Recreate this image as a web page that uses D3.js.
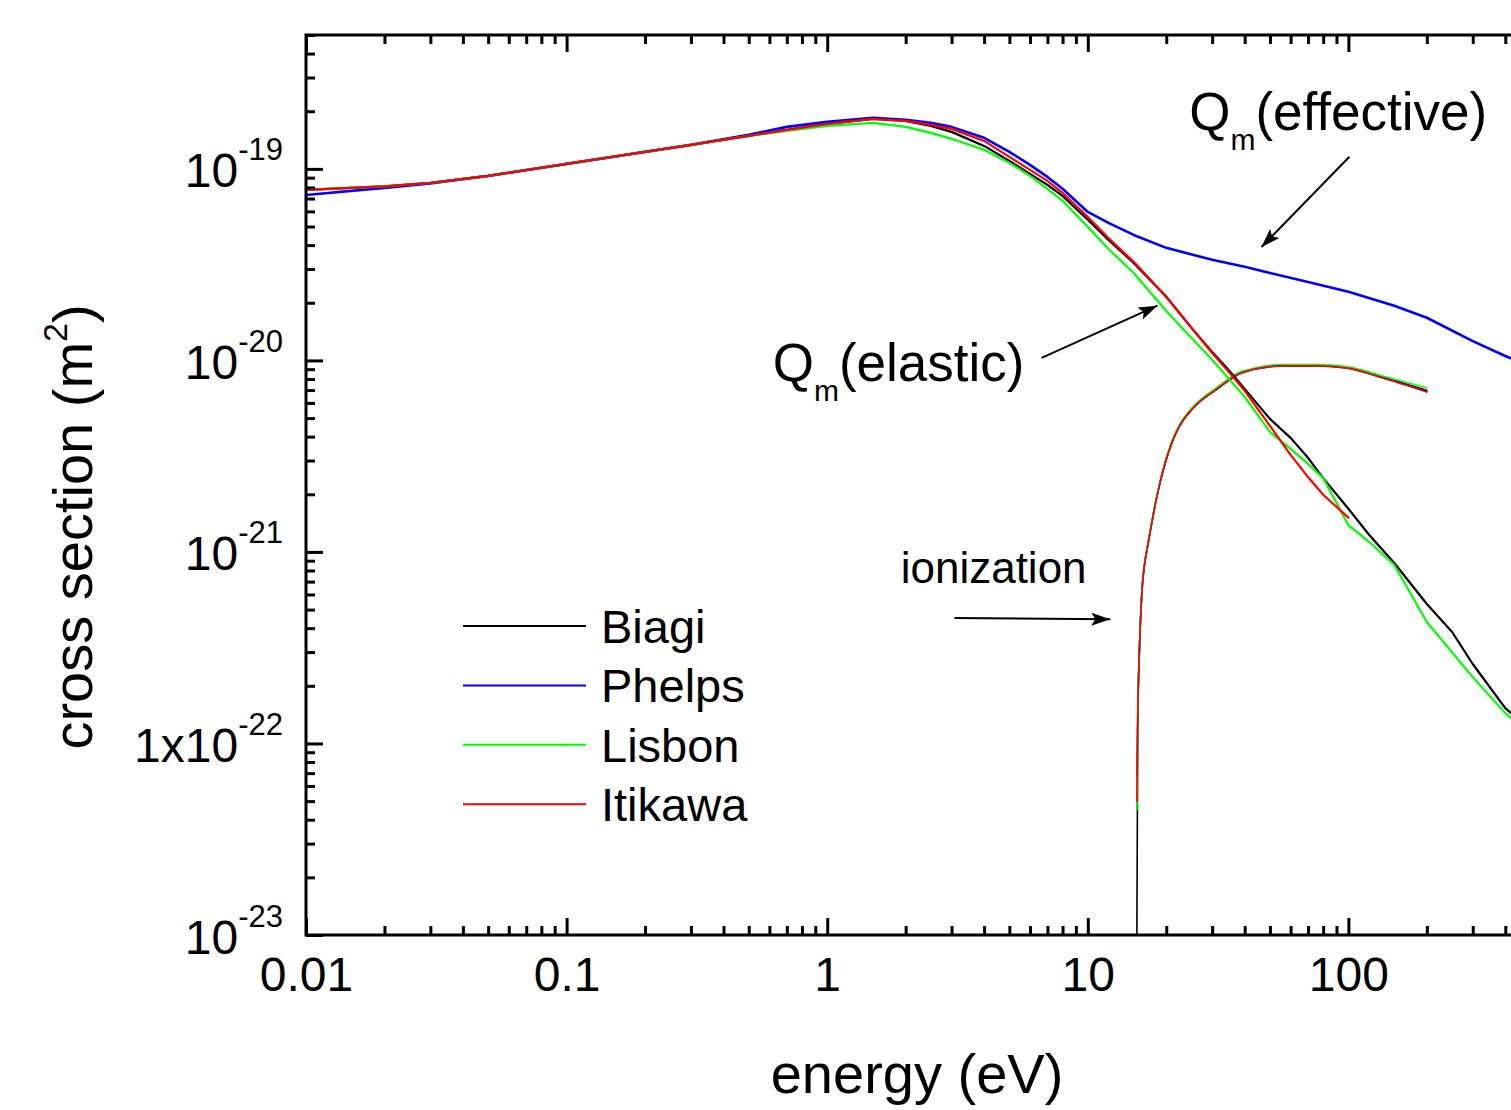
<!DOCTYPE html>
<html>
<head>
<meta charset="utf-8">
<script src="https://cdn.jsdelivr.net/npm/d3@7"></script>
<style>
  html, body { margin: 0; padding: 0; background: #fff; overflow: hidden; }
  svg { display: block; font-family: "Liberation Sans", Arial, Helvetica, sans-serif; }
</style>
</head>
<body>
<svg id="chart" width="1511" height="1110"></svg>
<script>
// ---------------- data: electron cross sections (m^2) vs energy (eV) ----------------

// Elastic / effective momentum-transfer cross sections
const biagiElasticE = [0.01, 0.02, 0.03, 0.05, 0.1, 0.2, 0.3, 0.5, 0.7, 1, 1.5, 2, 2.5, 3, 4, 5, 6, 7, 8, 10, 12, 15, 20, 25, 30, 35, 40, 50, 60, 70, 80, 100, 120, 150, 200, 250, 300, 400, 500];
const biagiElasticQ = [7.77e-20, 8.11e-20, 8.45e-20, 9.19e-20, 1.062e-19, 1.227e-19, 1.334e-19, 1.487e-19, 1.599e-19, 1.718e-19, 1.824e-19, 1.782e-19, 1.678e-19, 1.560e-19, 1.318e-19, 1.101e-19, 9.42e-20, 8.25e-20, 7.23e-20, 5.42e-20, 4.26e-20, 3.23e-20, 2.15e-20, 1.479e-20, 1.107e-20, 8.81e-21, 7.10e-21, 4.95e-21, 3.94e-21, 3.10e-21, 2.43e-21, 1.68e-21, 1.23e-21, 8.76e-22, 5.35e-22, 3.82e-22, 2.60e-22, 1.53e-22, 1.18e-22];

const phelpsEffectiveE = [0.01, 0.02, 0.03, 0.05, 0.1, 0.2, 0.3, 0.5, 0.7, 1, 1.5, 2, 2.5, 3, 4, 5, 6, 7, 8, 10, 12, 15, 20, 30, 40, 50, 70, 100, 150, 200, 300, 400, 500];
const phelpsEffectiveQ = [7.31e-20, 7.96e-20, 8.40e-20, 9.19e-20, 1.062e-19, 1.227e-19, 1.334e-19, 1.506e-19, 1.657e-19, 1.759e-19, 1.846e-19, 1.803e-19, 1.738e-19, 1.657e-19, 1.452e-19, 1.227e-19, 1.049e-19, 9.08e-20, 7.87e-20, 5.96e-20, 5.22e-20, 4.52e-20, 3.87e-20, 3.35e-20, 3.08e-20, 2.86e-20, 2.57e-20, 2.28e-20, 1.93e-20, 1.67e-20, 1.26e-20, 1.055e-20, 9.25e-21];

const lisbonElasticE = [0.01, 0.02, 0.03, 0.05, 0.1, 0.2, 0.3, 0.5, 0.7, 1, 1.5, 2, 2.5, 3, 4, 5, 6, 7, 8, 10, 12, 15, 20, 25, 30, 40, 50, 60, 70, 80, 100, 120, 150, 200, 300, 400, 500];
const lisbonElasticQ = [7.77e-20, 8.11e-20, 8.45e-20, 9.19e-20, 1.062e-19, 1.227e-19, 1.334e-19, 1.487e-19, 1.578e-19, 1.678e-19, 1.738e-19, 1.657e-19, 1.542e-19, 1.435e-19, 1.257e-19, 1.075e-19, 9.19e-20, 7.87e-20, 6.81e-20, 4.98e-20, 3.82e-20, 2.86e-20, 1.81e-20, 1.31e-20, 1.007e-20, 6.45e-21, 4.23e-21, 3.45e-21, 2.88e-21, 2.43e-21, 1.38e-21, 1.13e-21, 8.55e-22, 4.31e-22, 2.22e-22, 1.44e-22, 1.11e-22];

const itikawaElasticE = [0.01, 0.02, 0.03, 0.05, 0.1, 0.2, 0.3, 0.5, 0.7, 1, 1.5, 2, 2.5, 3, 4, 5, 6, 7, 8, 10, 12, 15, 20, 25, 30, 35, 40, 50, 60, 70, 80, 100];
const itikawaElasticQ = [7.77e-20, 8.11e-20, 8.45e-20, 9.19e-20, 1.062e-19, 1.227e-19, 1.334e-19, 1.487e-19, 1.599e-19, 1.718e-19, 1.824e-19, 1.782e-19, 1.698e-19, 1.618e-19, 1.400e-19, 1.156e-19, 9.88e-20, 8.65e-20, 7.50e-20, 5.61e-20, 4.36e-20, 3.27e-20, 2.15e-20, 1.479e-20, 1.094e-20, 8.61e-21, 6.93e-21, 4.55e-21, 3.21e-21, 2.46e-21, 1.99e-21, 1.51e-21];

// Total ionization cross sections (threshold 15.43 eV)
const ionizationE = [15.43, 15.55, 15.78, 16.2, 16.5, 17, 18.4, 18.84, 21, 22.5, 25, 26.8, 31, 39, 56, 75, 98, 135, 200];
const biagiIonQ   = [0, 1.374e-22, 3.08e-22, 6.72e-22, 8.55e-22, 1.088e-21, 1.938e-21, 2.24e-21, 3.71e-21, 4.55e-21, 5.52e-21, 6.07e-21, 7.02e-21, 8.61e-21, 9.40e-21, 9.40e-21, 9.18e-21, 8.20e-21, 6.97e-21];
const phelpsIonQ  = [6.7e-23, 1.40e-22, 3.10e-22, 6.75e-22, 8.58e-22, 1.09e-21, 1.94e-21, 2.24e-21, 3.71e-21, 4.55e-21, 5.52e-21, 6.07e-21, 7.02e-21, 8.61e-21, 9.36e-21, 9.36e-21, 9.14e-21, 8.11e-21, 6.85e-21];
const lisbonIonQ  = [4.5e-23, 1.374e-22, 3.10e-22, 6.78e-22, 8.65e-22, 1.10e-21, 1.96e-21, 2.27e-21, 3.78e-21, 4.63e-21, 5.62e-21, 6.17e-21, 7.16e-21, 8.78e-21, 9.52e-21, 9.50e-21, 9.28e-21, 8.30e-21, 7.18e-21];
const itikawaIonQ = [5.0e-23, 1.374e-22, 3.08e-22, 6.72e-22, 8.55e-22, 1.088e-21, 1.938e-21, 2.24e-21, 3.71e-21, 4.55e-21, 5.52e-21, 6.07e-21, 7.02e-21, 8.61e-21, 9.36e-21, 9.36e-21, 9.14e-21, 8.11e-21, 6.85e-21];

// Legend entries, in drawing order
const sourceNames  = ["Biagi", "Phelps", "Lisbon", "Itikawa"];
const sourceColors = ["#000000", "#0000ff", "#00ff00", "#ff0000"];

// Axis ticks
const xMajorTicks   = [0.01, 0.1, 1, 10, 100, 1000];
const xLabelTicks   = [0.01, 0.1, 1, 10, 100];
const xTickLabels   = ["0.01", "0.1", "1", "10", "100"];
const yMajorTicks   = [1e-23, 1e-22, 1e-21, 1e-20, 1e-19];
const yTickMantissa = ["10", "1x10", "10", "10", "10"];
const yTickExponent = ["-23", "-22", "-21", "-20", "-19"];

// ---------------- layout ----------------
const svg = d3.select("#chart");
const plot = { left: 306, top: 35, right: 1609, bottom: 935 };

const x = d3.scaleLog().domain([0.01, 1000]).range([plot.left, plot.right]);
const y = d3.scaleLog().domain([1e-23, 5e-19]).range([plot.bottom, plot.top]).clamp(true);

const minorTicks = (majors, max) => {
  const out = [];
  majors.forEach(m => { for (let k = 2; k <= 9; k++) { const v = m * k; if (v <= max * 1.0001) out.push(v); } });
  return out;
};
const xMinorTicks = minorTicks(xMajorTicks.slice(0, -1), 1000);
const yMinorTicks = minorTicks(yMajorTicks, 5e-19);

svg.append("clipPath").attr("id", "plot-clip")
  .append("rect")
  .attr("x", plot.left).attr("y", plot.top)
  .attr("width", plot.right - plot.left).attr("height", plot.bottom - plot.top);

// ---------------- curves ----------------
const line = d3.line().x(d => x(d[0])).y(d => y(d[1]));
const smoothLine = d3.line().x(d => x(d[0])).y(d => y(d[1])).curve(d3.curveMonotoneX);
const curves = svg.append("g").attr("clip-path", "url(#plot-clip)").attr("fill", "none")
  .attr("stroke-linejoin", "round").attr("stroke-linecap", "round");

const momentumSets = [
  [biagiElasticE, biagiElasticQ],
  [phelpsEffectiveE, phelpsEffectiveQ],
  [lisbonElasticE, lisbonElasticQ],
  [itikawaElasticE, itikawaElasticQ]
];
const ionSets = [biagiIonQ, phelpsIonQ, lisbonIonQ, itikawaIonQ];

sourceNames.forEach((name, i) => {
  curves.append("path")
    .datum(d3.zip(ionizationE, ionSets[i]))
    .attr("stroke", sourceColors[i])
    .attr("stroke-width", 1.6)
    .attr("d", smoothLine);
});
sourceNames.forEach((name, i) => {
  const [E, Q] = momentumSets[i];
  curves.append("path")
    .datum(d3.zip(E, Q))
    .attr("stroke", sourceColors[i])
    .attr("stroke-width", i === 1 ? 2.6 : 2.2)
    .attr("d", line);
});

// ---------------- axes ----------------
const axisStyle = g => {
  g.select(".domain").remove();
  g.selectAll(".tick line").attr("stroke", "#000").attr("stroke-width", 3);
};

// bottom
svg.append("g").attr("transform", `translate(0,${plot.bottom})`)
  .call(d3.axisBottom(x).tickValues(xMinorTicks).tickSize(-9).tickFormat(""))
  .call(axisStyle);
svg.append("g").attr("transform", `translate(0,${plot.bottom})`)
  .call(d3.axisBottom(x).tickValues(xMajorTicks).tickSize(-17).tickFormat(""))
  .call(axisStyle);
svg.append("g").attr("transform", `translate(0,${plot.bottom})`)
  .call(d3.axisBottom(x).tickValues(xLabelTicks).tickSize(0).tickPadding(22)
    .tickFormat((d, i) => xTickLabels[i]))
  .call(g => g.select(".domain").remove())
  .call(g => g.selectAll("text").attr("fill", "#000").attr("font-size", 48)
    .attr("font-family", "Liberation Sans, Arial, sans-serif"));

// top
svg.append("g").attr("transform", `translate(0,${plot.top})`)
  .call(d3.axisTop(x).tickValues(xMinorTicks).tickSize(-9).tickFormat(""))
  .call(axisStyle);
svg.append("g").attr("transform", `translate(0,${plot.top})`)
  .call(d3.axisTop(x).tickValues(xMajorTicks).tickSize(-17).tickFormat(""))
  .call(axisStyle);

// left
svg.append("g").attr("transform", `translate(${plot.left},0)`)
  .call(d3.axisLeft(y).tickValues(yMinorTicks).tickSize(-9).tickFormat(""))
  .call(axisStyle);
const yAxisG = svg.append("g").attr("transform", `translate(${plot.left},0)`)
  .call(d3.axisLeft(y).tickValues(yMajorTicks).tickSize(-17).tickPadding(23).tickFormat(""))
  .call(axisStyle);
yAxisG.selectAll(".tick text").each(function (d, i) {
  const t = d3.select(this)
    .attr("fill", "#000").attr("dy", 18)
    .attr("font-family", "Liberation Sans, Arial, sans-serif");
  t.text(null);
  t.append("tspan").attr("font-size", 48).text(yTickMantissa[i]);
  t.append("tspan").attr("font-size", 31).attr("dy", -27).text(yTickExponent[i]);
});

// right
svg.append("g").attr("transform", `translate(${plot.right},0)`)
  .call(d3.axisRight(y).tickValues(yMinorTicks).tickSize(-9).tickFormat(""))
  .call(axisStyle);
svg.append("g").attr("transform", `translate(${plot.right},0)`)
  .call(d3.axisRight(y).tickValues(yMajorTicks).tickSize(-17).tickFormat(""))
  .call(axisStyle);

// frame
svg.append("rect")
  .attr("x", plot.left).attr("y", plot.top)
  .attr("width", plot.right - plot.left).attr("height", plot.bottom - plot.top)
  .attr("fill", "none").attr("stroke", "#000").attr("stroke-width", 3);

// axis titles
svg.append("text")
  .attr("x", 917).attr("y", 1093)
  .attr("text-anchor", "middle").attr("font-size", 56)
  .text("energy (eV)");

const yTitle = svg.append("text")
  .attr("transform", "translate(92,527) rotate(-90)")
  .attr("text-anchor", "middle").attr("font-size", 56);
yTitle.append("tspan").text("cross section (m");
yTitle.append("tspan").attr("font-size", 34).attr("dy", -25).text("2");
yTitle.append("tspan").attr("dy", 25).text(")");

// ---------------- legend ----------------
const legend = svg.append("g").attr("transform", "translate(463,626)");
sourceNames.forEach((name, i) => {
  const row = legend.append("g").attr("transform", `translate(0,${i * 59.4})`);
  row.append("line").attr("x1", 0).attr("x2", 123).attr("y1", 0).attr("y2", 0)
    .attr("stroke", sourceColors[i]).attr("stroke-width", 2);
  row.append("text").attr("x", 138).attr("y", 17).attr("font-size", 47).text(name);
});

// ---------------- annotations ----------------
svg.append("defs").append("marker")
  .attr("id", "arrowhead")
  .attr("markerUnits", "userSpaceOnUse")
  .attr("markerWidth", 24).attr("markerHeight", 16)
  .attr("viewBox", "-22 -8 24 16")
  .attr("refX", 0).attr("refY", 0)
  .attr("orient", "auto")
  .append("path").attr("d", "M0,0 L-19,-6.5 L-15,0 L-19,6.5 Z").attr("fill", "#000");

const arrows = [
  { from: [100.9, 1.156e-19], to: [46.4, 3.91e-20] },   // effective
  { from: [6.65, 1.03e-20],   to: [18.5, 1.93e-20] },   // elastic
  { from: [3.08, 4.52e-22],   to: [12.2, 4.45e-22] }    // ionization
];
arrows.forEach(a => {
  svg.append("line")
    .attr("x1", x(a.from[0])).attr("y1", y(a.from[1]))
    .attr("x2", x(a.to[0])).attr("y2", y(a.to[1]))
    .attr("stroke", "#000").attr("stroke-width", 2)
    .attr("marker-end", "url(#arrowhead)");
});

const qmLabel = (E, Q, word) => {
  const t = svg.append("text").attr("x", x(E)).attr("y", y(Q)).attr("font-size", 53);
  t.append("tspan").text("Q");
  t.append("tspan").attr("font-size", 30).attr("dy", 20).text("m");
  t.append("tspan").attr("dy", -20).text(word);
};
qmLabel(24.5, 1.6e-19, "(effective)");
qmLabel(0.618, 7.81e-21, "(elastic)");

svg.append("text").attr("x", x(1.914)).attr("y", y(6.89e-22))
  .attr("font-size", 44).text("ionization");
</script>
</body>
</html>
